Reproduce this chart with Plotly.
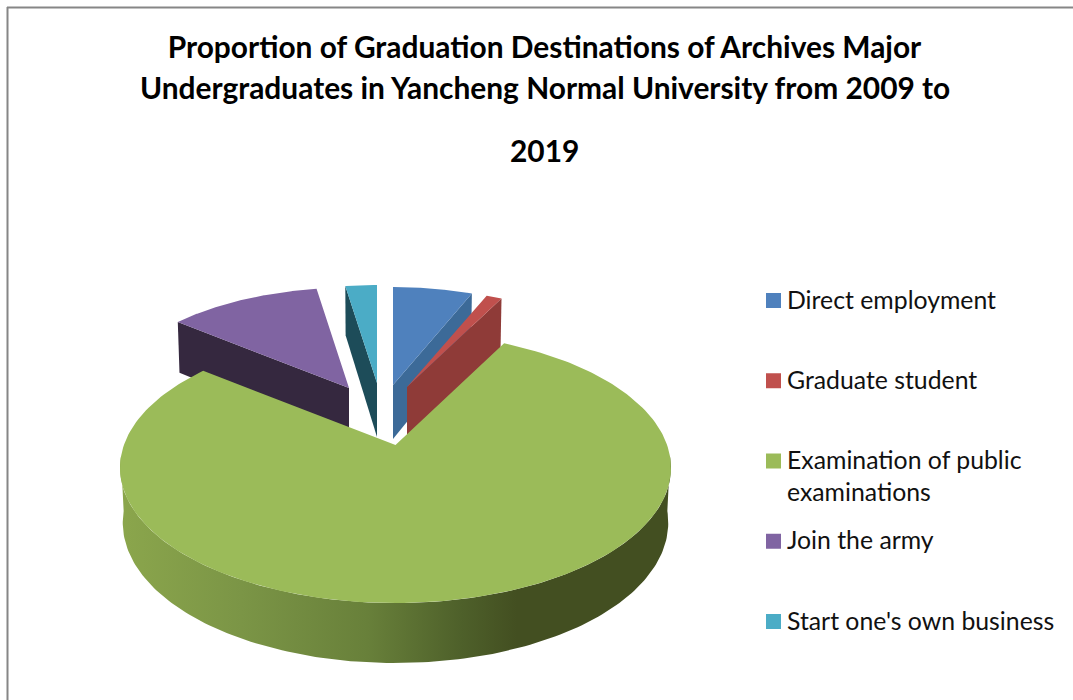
import numpy as np
import plotly.graph_objects as go

# ---- data (percent of graduates) ----
categories = ["Direct employment", "Graduate student", "Examination of public examinations",
              "Join the army", "Start one's own business"]
legend_labels = ["Direct employment", "Graduate student", "Examination of public<br>examinations",
                 "Join the army", "Start one's own business"]
values = [6.3, 1.3, 78.1, 11.8, 2.5]
title_lines = ["Proportion of Graduation Destinations of Archives Major",
               "Undergraduates in Yancheng Normal University from 2009 to",
               "2019"]

# ---- style ----
top_colors = ["#4f81bd", "#c0504d", "#9bbb59", "#8064a2", "#4bacc6"]
face_colors = ["#3c6a98", "#8f3b38", "#5f7533", "#35283f", "#1d4c59"]
apex_x = [393, 407, 395.5, 349, 377]
apex_y = [385, 387, 445, 388, 383]
slice_scale = [0.87, 0.87, 1.0, 0.89, 0.87]
draw_order = [3, 4, 0, 1, 2]

RX, RY, K = 271.6, 131.5, 0.168   # projection of the tilted disc
DEPTH, DK = 54.0, 0.10
BOTTOM_SHRINK = 0.99
FONT = "Lato"


def project(i, theta_deg, radius=1.0):
    t = np.radians(theta_deg)
    X, Y = radius * np.sin(t), radius * np.cos(t)
    s = slice_scale[i] / (1.0 + K * Y)
    d = DEPTH / (1.0 + DK * Y)
    return apex_x[i] + RX * X * s, apex_y[i] - RY * Y * s, d


def lower_x(i, x):
    return apex_x[i] + (np.asarray(x) - apex_x[i]) * BOTTOM_SHRINK


total = sum(values)
edges = np.concatenate([[0], np.cumsum(values)]) / total * 360.0

fig = go.Figure()


def poly(xs, ys, color, name, **kw):
    fig.add_trace(go.Scatter(x=list(xs), y=list(ys), mode="lines", fill="toself",
                             fillcolor=color, line=dict(width=0, color=color),
                             hoverinfo="skip", showlegend=False, name=name, **kw))


for i in draw_order:
    a, b = edges[i], edges[i + 1]
    name = categories[i]
    # front wall (curved) – only for the arc part turned to the viewer
    lo, hi = max(a, 95.0), min(b, 265.0)
    if hi > lo:
        th = np.linspace(lo, hi, 160)
        x, y, d = project(i, th)
        fig.add_trace(go.Scatter(
            x=np.concatenate([x, lower_x(i, x)[::-1]]), y=np.concatenate([y, (y + d)[::-1]]),
            mode="lines", fill="toself", line=dict(width=0), hoverinfo="skip",
            showlegend=False, name=name,
            fillgradient=dict(type="horizontal", colorscale=[
                [0.0, "#8ba64c"], [0.22, "#7b9546"], [0.45, "#68803a"],
                [0.62, "#4e602a"], [0.72, "#434f21"], [1.0, "#434f21"]])))
    # radial side faces turned to the viewer
    for ang, vis in ((a, np.sin(np.radians(a)) < -1e-6), (b, np.sin(np.radians(b)) > 1e-6)):
        if vis and hi <= lo:
            x1, y1, d1 = project(i, ang)
            x0, y0, d0 = project(i, ang, 0.0)
            poly([x0, x1, lower_x(i, x1), x0], [y0, y1, y1 + d1, y0 + d0], face_colors[i], name)
    # top surface
    th = np.linspace(a, b, 200)
    x, y, _ = project(i, th)
    poly(np.concatenate([[apex_x[i]], x]), np.concatenate([[apex_y[i]], y]), top_colors[i], name)

# legend
legend_x = [773.5] * len(categories)
legend_y = [300.5 + 80.25 * n for n in range(len(categories))]
fig.add_trace(go.Scatter(x=legend_x, y=legend_y, mode="markers", hoverinfo="skip", showlegend=False,
                         marker=dict(symbol="square", size=15, color=top_colors, line=dict(width=0))))
annotations = []
for n, lab in enumerate(legend_labels):
    annotations.append(dict(x=786, y=legend_y[n] - 17, xref="x", yref="y", text=lab, showarrow=False,
                            xanchor="left", yanchor="top", align="left",
                            font=dict(family=FONT, size=24.8, color="#111111"),
                            borderpad=0))
for txt, yy in zip(title_lines[1:], (86.5, 150)):
    annotations.append(dict(x=544.5, y=yy, xref="x", yref="y", text="<b>%s</b>" % txt, showarrow=False,
                            xanchor="center", yanchor="middle",
                            font=dict(family=FONT, size=29.9, color="#000000")))

fig.update_layout(
    width=1073, height=700, margin=dict(l=0, r=0, t=0, b=0),
    paper_bgcolor="white", plot_bgcolor="white", showlegend=False,
    title=dict(text="<b>%s</b>" % title_lines[0], x=544.5 / 1073, xanchor="center",
               y=1 - 48 / 700, yanchor="middle",
               font=dict(family=FONT, size=29.9, color="#000000")),
    xaxis=dict(range=[0, 1073], visible=False, fixedrange=True),
    yaxis=dict(range=[700, 0], visible=False, fixedrange=True),
    annotations=annotations,
    shapes=[
        dict(type="line", xref="paper", yref="paper", x0=7 / 1073, x1=1, y0=1 - 7.5 / 700, y1=1 - 7.5 / 700,
             line=dict(color="#868686", width=2)),
        dict(type="line", xref="paper", yref="paper", x0=7.5 / 1073, x1=7.5 / 1073, y0=0, y1=1 - 7 / 700,
             line=dict(color="#868686", width=2)),
    ],
)
fig.write_html("out.html", config=dict(displayModeBar=False),
               post_script="document.body.style.margin='0';document.body.style.overflow='hidden';")
